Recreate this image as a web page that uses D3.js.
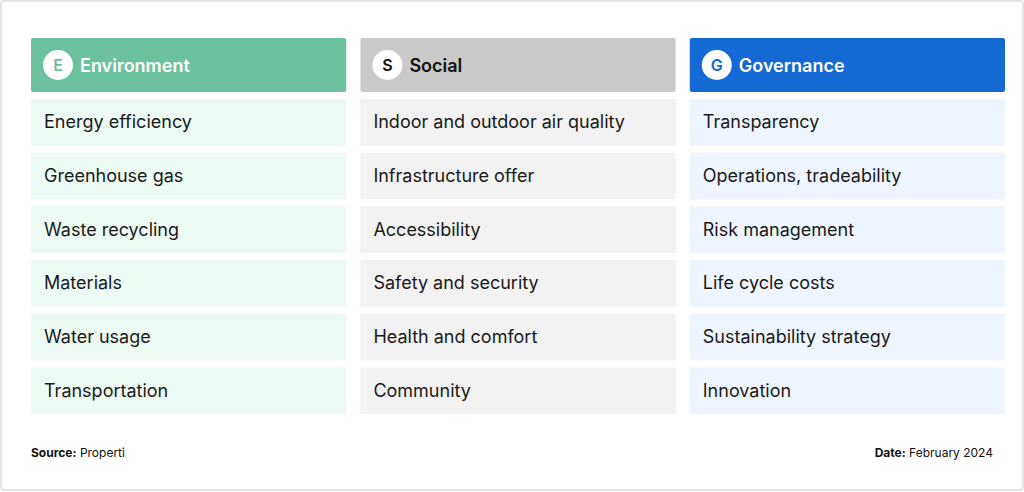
<!DOCTYPE html>
<html><head><meta charset="utf-8">
<script src="https://cdn.jsdelivr.net/npm/d3@7"></script>
<style>body{margin:0;background:#fff;font-family:Inter,"Noto Sans",sans-serif}</style>
</head><body><div id="chart"></div>
<script>
// pillars and their topics
var pillars = ["Environment", "Social", "Governance"];
var letters = ["E", "S", "G"];
var envTopics = ["Energy efficiency", "Greenhouse gas", "Waste recycling", "Materials", "Water usage", "Transportation"];
var socTopics = ["Indoor and outdoor air quality", "Infrastructure offer", "Accessibility", "Safety and security", "Health and comfort", "Community"];
var govTopics = ["Transparency", "Operations, tradeability", "Risk management", "Life cycle costs", "Sustainability strategy", "Innovation"];
var topics = [envTopics, socTopics, govTopics];

var headFill = ["#6cc19f", "#c9c9c9", "#1569d4"];
var headText = ["#fff", "#111", "#fff"];
var circText = ["#6cc19f", "#111", "#1569d4"];
var rowFill = ["#edfaf4", "#f2f2f2", "#eef5fe"];

var width = 1024, height = 492;
var svg = d3.select("#chart").append("svg").attr("width", width).attr("height", height);

svg.append("rect").attr("x", 1).attr("y", 1).attr("width", width - 2).attr("height", height - 3)
    .attr("rx", 3).attr("fill", "#fff").attr("stroke", "#e6e6e6").attr("stroke-width", 2);

var x = d3.scaleBand().domain(pillars).range([31, 1006]).paddingInner(0.04);
var y = d3.scaleBand().domain(d3.range(6)).range([99, 414]).paddingInner(0.13);

var col = svg.selectAll("g.col").data(pillars).enter().append("g")
    .attr("class", "col")
    .attr("transform", function(d) { return "translate(" + x(d) + ",0)"; });

col.append("rect").attr("y", 38).attr("width", x.bandwidth() - 1).attr("height", 54).attr("rx", 2)
    .attr("fill", function(d, i) { return headFill[i]; });
col.append("circle").attr("cx", 27).attr("cy", 65).attr("r", 15).attr("fill", "#fff");
col.append("text").attr("x", 27).attr("y", 71).attr("text-anchor", "middle")
    .attr("font-size", 16).attr("font-weight", 600)
    .attr("fill", function(d, i) { return circText[i]; })
    .text(function(d, i) { return letters[i]; });
col.append("text").attr("x", 49).attr("y", 72)
    .attr("font-size", 18).attr("font-weight", 600)
    .attr("fill", function(d, i) { return headText[i]; })
    .text(function(d) { return d; });

col.each(function(p, i) {
    var g = d3.select(this);
    var rows = g.selectAll("g.row").data(topics[i]).enter().append("g")
        .attr("transform", function(d, j) { return "translate(0," + y(j) + ")"; });
    rows.append("rect").attr("width", x.bandwidth() - 1).attr("height", y.bandwidth())
        .attr("fill", rowFill[i]);
    rows.append("text").attr("x", 13).attr("y", y.bandwidth() / 2 + 6)
        .attr("font-size", 18).attr("fill", "#1a1a1a")
        .text(function(d) { return d; });
});

var src = svg.append("text").attr("x", 31).attr("y", 457).attr("font-size", 12).attr("fill", "#111");
src.append("tspan").attr("font-weight", 700).text("Source:");
src.append("tspan").text(" Properti");
var dt = svg.append("text").attr("x", 993).attr("y", 457).attr("text-anchor", "end").attr("font-size", 12).attr("fill", "#111");
dt.append("tspan").attr("font-weight", 700).text("Date:");
dt.append("tspan").text(" February 2024");
</script></body></html>
